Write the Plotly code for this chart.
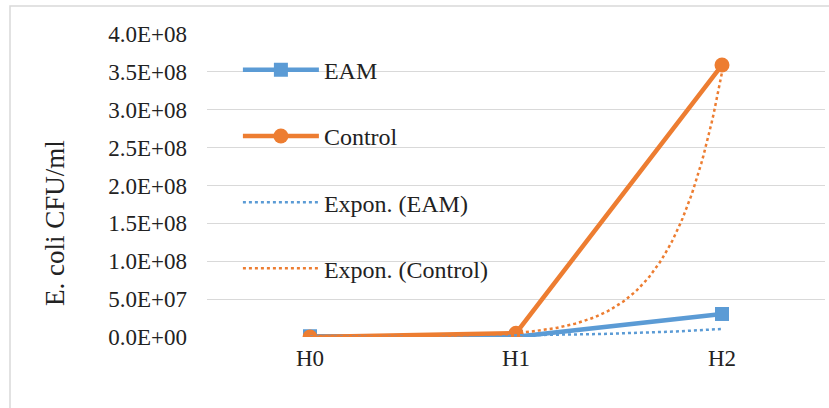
import numpy as np
import plotly.graph_objects as go

categories = ["H0", "H1", "H2"]
eam = [1.0e6, 2.4e5, 3.04e7]
control = [8.2e4, 5.0e6, 3.59e8]
y_ticks = [0, 5e7, 1e8, 1.5e8, 2e8, 2.5e8, 3e8, 3.5e8, 4e8]

BLUE = "#5B9BD5"
ORANGE = "#ED7D31"
FONT = "Liberation Serif, Times New Roman, serif"

xpos = np.arange(1, len(categories) + 1)


def expon_fit(y):
    b, a = np.polyfit(xpos, np.log(y), 1)
    xs = np.linspace(xpos[0], xpos[-1], 200)
    return xs, np.exp(a + b * xs)


fig = go.Figure()
fig.add_trace(go.Scatter(x=xpos, y=eam, name="EAM", mode="lines+markers",
                         line=dict(color=BLUE, width=4.5),
                         marker=dict(symbol="square", size=14, color=BLUE),
                         legendgroup="a"))
fig.add_trace(go.Scatter(x=xpos, y=control, name="Control", mode="lines+markers",
                         line=dict(color=ORANGE, width=4.5),
                         marker=dict(symbol="circle", size=15, color=ORANGE),
                         legendgroup="b"))
xs, ys = expon_fit(eam)
fig.add_trace(go.Scatter(x=xs, y=ys, name="Expon. (EAM)", mode="lines",
                         line=dict(color=BLUE, width=2.5, dash="dot"),
                         legendgroup="c"))
xs, ys = expon_fit(control)
fig.add_trace(go.Scatter(x=xs, y=ys, name="Expon. (Control)", mode="lines",
                         line=dict(color=ORANGE, width=2.5, dash="dot"),
                         legendgroup="d"))

fig.update_layout(
    width=829, height=408,
    margin=dict(l=207, r=4, t=34, b=71),
    paper_bgcolor="white", plot_bgcolor="white",
    font=dict(family=FONT, size=23, color="#222222"),
    showlegend=True,
    legend=dict(x=0.05, y=0.955, xanchor="left", yanchor="top",
                bgcolor="rgba(0,0,0,0)", font=dict(size=24, family=FONT),
                itemwidth=76, tracegroupgap=32, traceorder="grouped"),
    xaxis=dict(range=[0.5, 3.5], tickvals=list(xpos), ticktext=categories,
               showgrid=False, zeroline=False, showline=False, ticks="",
               ticklabelstandoff=5, tickfont=dict(size=23)),
    yaxis=dict(range=[0, 4e8], tickvals=y_ticks,
               ticktext=[f"{v:.1E}" for v in y_ticks],
               showgrid=True, gridcolor="#D9D9D9", gridwidth=1,
               zeroline=False, showline=False, ticks="", ticklen=0,
               ticklabelstandoff=19, tickfont=dict(size=23)),
    annotations=[dict(text="E. coli CFU/ml", textangle=-90, showarrow=False,
                      xref="paper", yref="paper", x=(55 - 207) / 618,
                      y=(337 - 223) / 303, xanchor="center", yanchor="middle",
                      font=dict(size=27, family=FONT))],
    shapes=[dict(type="rect", xref="paper", yref="paper",
                 x0=(10 - 207) / 618, x1=1.2, y0=-0.5, y1=(337 - 6) / 303,
                 line=dict(color="#D9D9D9", width=1.5), layer="below")],
)

fig.write_html("out.html", config={"displayModeBar": False},
               post_script="document.body.style.margin='0';document.body.style.overflow='hidden';")
